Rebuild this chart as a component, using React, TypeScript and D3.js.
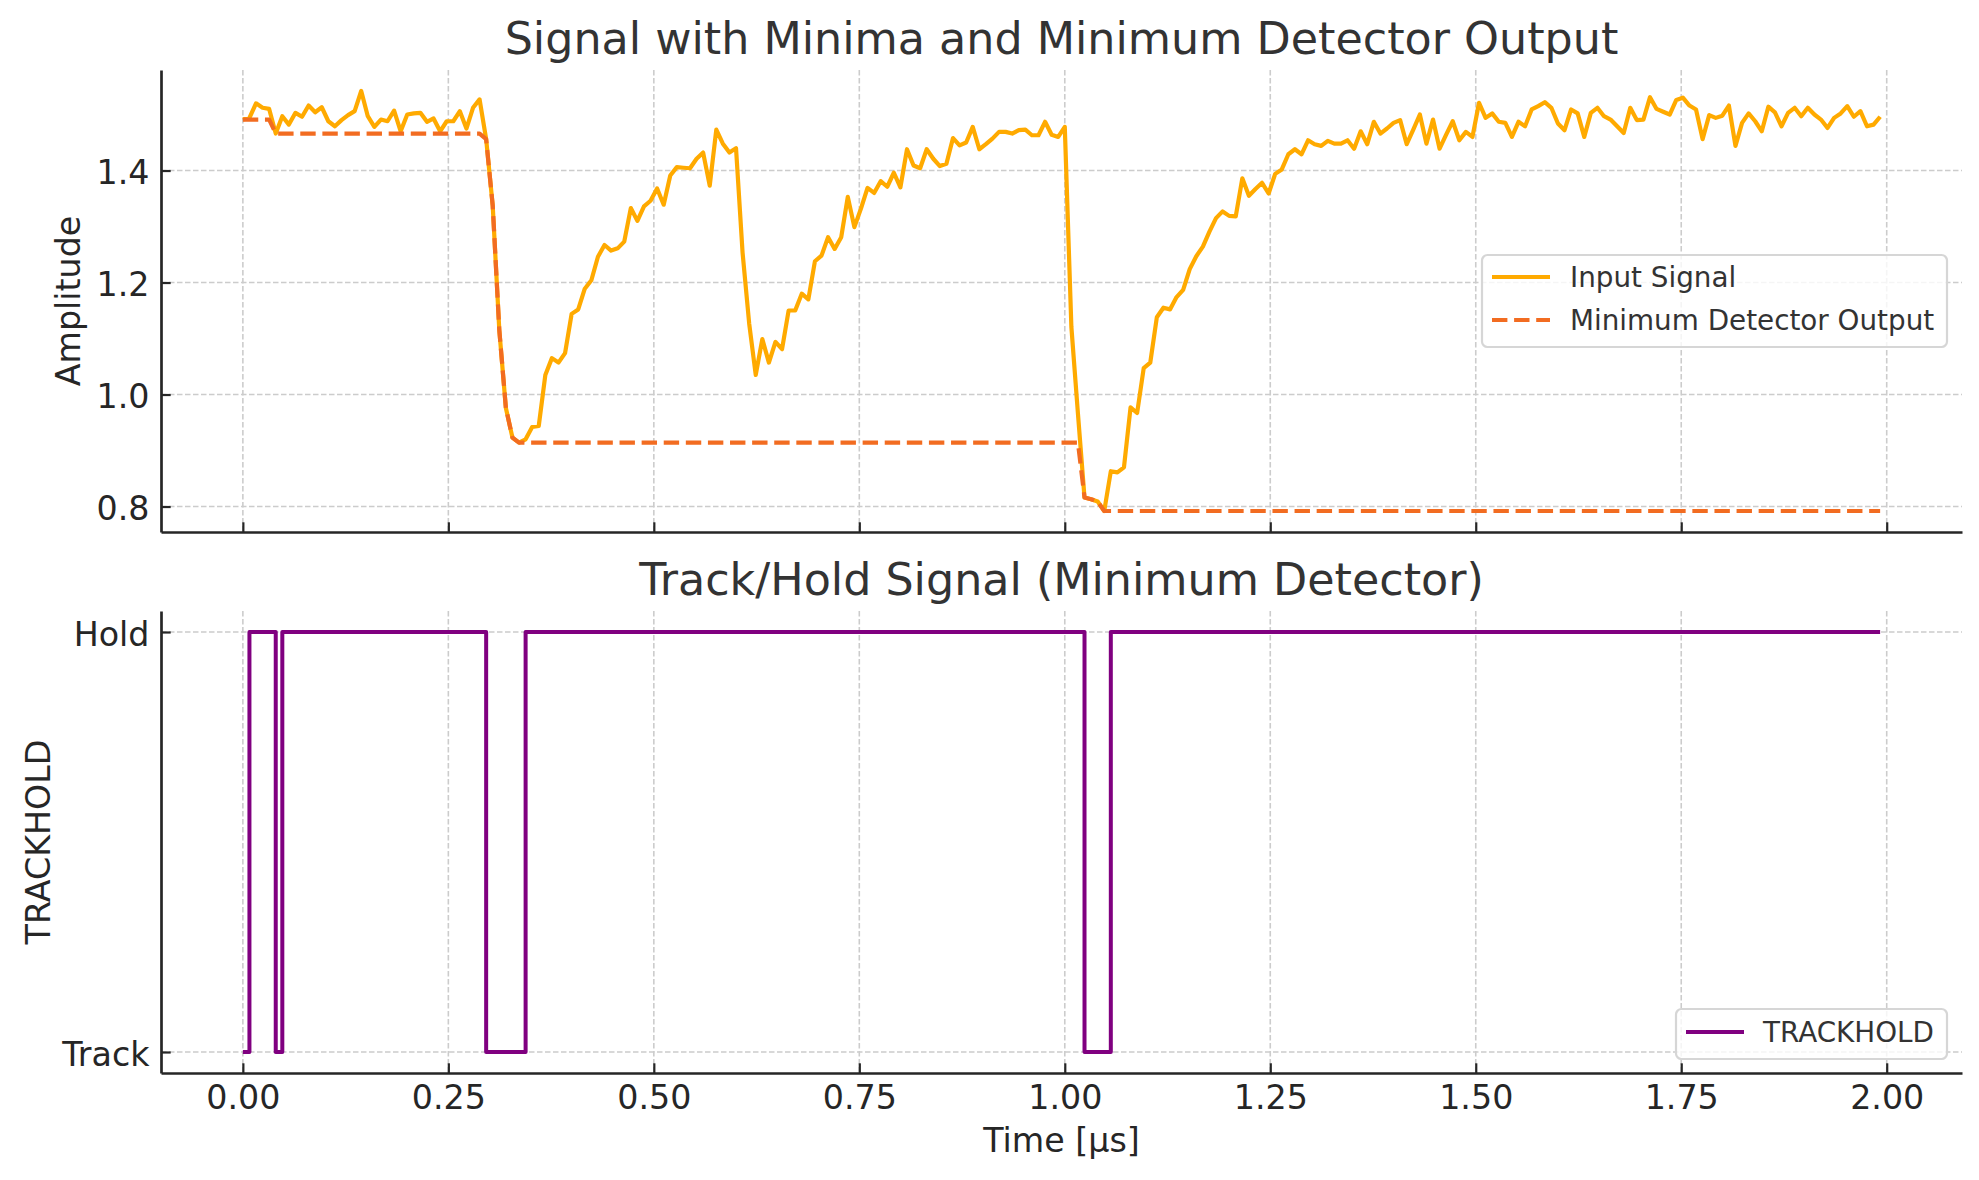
import React, { useEffect, useRef } from 'react';
import * as d3 from 'd3';

// sampling grid of the input signal (µs)
const timeStep = 0.008;

// input signal, one value per sample
const inputSignal = [
  1.491, 1.494, 1.520, 1.512, 1.510, 1.466, 1.497, 1.482, 1.503, 1.496,
  1.516, 1.504, 1.513, 1.488, 1.479, 1.490, 1.499, 1.506, 1.542, 1.497,
  1.478, 1.491, 1.488, 1.507, 1.470, 1.500, 1.502, 1.503, 1.487, 1.493,
  1.470, 1.488, 1.488, 1.506, 1.475, 1.512, 1.527, 1.456, 1.337, 1.115,
  0.976, 0.923, 0.914, 0.920, 0.942, 0.944, 1.035, 1.065, 1.057, 1.074,
  1.144, 1.152, 1.189, 1.204, 1.246, 1.267, 1.257, 1.261, 1.273, 1.333,
  1.310, 1.336, 1.346, 1.368, 1.339, 1.391, 1.406, 1.405, 1.404, 1.421,
  1.432, 1.373, 1.473, 1.448, 1.432, 1.440, 1.253, 1.127, 1.035, 1.099,
  1.057, 1.094, 1.081, 1.150, 1.150, 1.180, 1.170, 1.238, 1.248, 1.281,
  1.260, 1.281, 1.353, 1.299, 1.332, 1.369, 1.360, 1.381, 1.371, 1.396,
  1.370, 1.438, 1.409, 1.404, 1.438, 1.421, 1.408, 1.412, 1.458, 1.445,
  1.450, 1.478, 1.438, 1.447, 1.457, 1.469, 1.469, 1.466, 1.472, 1.473,
  1.463, 1.463, 1.487, 1.464, 1.460, 1.478, 1.121, 0.966, 0.816, 0.813,
  0.809, 0.792, 0.863, 0.861, 0.870, 0.977, 0.967, 1.047, 1.057, 1.138,
  1.155, 1.152, 1.174, 1.187, 1.224, 1.247, 1.264, 1.291, 1.315, 1.327,
  1.319, 1.318, 1.386, 1.355, 1.367, 1.378, 1.359, 1.394, 1.402, 1.429,
  1.438, 1.429, 1.454, 1.447, 1.444, 1.453, 1.448, 1.448, 1.454, 1.439,
  1.470, 1.447, 1.487, 1.466, 1.475, 1.485, 1.490, 1.447, 1.473, 1.500,
  1.448, 1.491, 1.439, 1.464, 1.488, 1.454, 1.469, 1.460, 1.521, 1.494,
  1.502, 1.487, 1.485, 1.460, 1.487, 1.479, 1.509, 1.515, 1.522, 1.512,
  1.484, 1.472, 1.509, 1.502, 1.460, 1.503, 1.512, 1.497, 1.491, 1.479,
  1.467, 1.512, 1.490, 1.491, 1.531, 1.510, 1.505, 1.500, 1.526, 1.530,
  1.516, 1.509, 1.456, 1.499, 1.494, 1.498, 1.516, 1.444, 1.485, 1.502,
  1.488, 1.470, 1.514, 1.504, 1.479, 1.503, 1.512, 1.497, 1.512, 1.500,
  1.491, 1.476, 1.494, 1.502, 1.515, 1.496, 1.506, 1.479, 1.482, 1.496,
];

// minimum detector output, vertices (time µs, value)
const minDetTimes = [0, 0.032, 0.04, 0.288, 0.296, 0.304, 0.312, 0.32, 0.328, 0.336, 1.016, 1.024, 1.032, 1.04, 1.048, 1.992];
const minDetValues = [1.491, 1.491, 1.466, 1.466, 1.456, 1.337, 1.115, 0.976, 0.923, 0.914, 0.914, 0.816, 0.813, 0.809, 0.792, 0.792];

// track/hold state changes (0 = Track, 1 = Hold), held until next time
const trackHoldTimes = [0, 0.008, 0.04, 0.048, 0.296, 0.344, 1.024, 1.056, 1.992];
const trackHoldStates = [0, 1, 0, 1, 0, 1, 0, 1, 1];

const xTicks = [0, 0.25, 0.5, 0.75, 1.0, 1.25, 1.5, 1.75, 2.0];
const ampTicks = [0.8, 1.0, 1.2, 1.4];
const stateTicks = [0, 1];
const stateLabels = ['Track', 'Hold'];

const W = 1979;
const H = 1180;
const FONT = '"DejaVu Sans", sans-serif';
const INK = '#262626';
const GRID = '#cccccc';

const App: React.FC = () => {
  const svgRef = useRef<SVGSVGElement>(null);

  useEffect(() => {
    const svg = d3.select(svgRef.current);
    svg.selectAll('*').remove();

    const left = 161;
    const right = 1962;
    const top1 = { top: 70, bottom: 532 };
    const top2 = { top: 611, bottom: 1073 };

    const sig = inputSignal.map((v, i) => ({ t: i * timeStep, v }));
    const tExt = d3.extent(sig, d => d.t) as [number, number];
    const tPad = (tExt[1] - tExt[0]) * 0.05;
    const x = d3.scaleLinear().domain([tExt[0] - tPad, tExt[1] + tPad]).range([left, right]);

    const vExt = d3.extent(inputSignal) as [number, number];
    const vPad = (vExt[1] - vExt[0]) * 0.05;
    const y1 = d3.scaleLinear().domain([vExt[0] - vPad, vExt[1] + vPad]).range([top1.bottom, top1.top]);
    const y2 = d3.scaleLinear().domain([-0.05, 1.05]).range([top2.bottom, top2.top]);

    const grid = (g: any, y: any, yTicks: number[], box: { top: number; bottom: number }) => {
      const gg = g.append('g');
      gg.selectAll('.vg').data(xTicks).enter().append('line')
        .attr('x1', (d: number) => x(d)).attr('x2', (d: number) => x(d))
        .attr('y1', box.top).attr('y2', box.bottom)
        .attr('stroke', GRID).attr('stroke-width', 1.6).attr('stroke-dasharray', '5.5,2.5');
      gg.selectAll('.hg').data(yTicks).enter().append('line')
        .attr('x1', left).attr('x2', right)
        .attr('y1', (d: number) => y(d)).attr('y2', (d: number) => y(d))
        .attr('stroke', GRID).attr('stroke-width', 1.6).attr('stroke-dasharray', '5.5,2.5');
    };

    const styleAxis = (ax: any) => {
      ax.select('.domain').attr('stroke', INK).attr('stroke-width', 2.7);
      ax.selectAll('.tick line').attr('stroke', INK).attr('stroke-width', 2.2);
      ax.selectAll('.tick text').attr('fill', INK).attr('font-family', FONT).attr('font-size', 33.3);
    };

    // ---------- top panel ----------
    grid(svg, y1, ampTicks, top1);

    const lineSig = d3.line<{ t: number; v: number }>().x(d => x(d.t)).y(d => y1(d.v));
    svg.append('path').datum(sig).attr('d', lineSig)
      .attr('fill', 'none').attr('stroke', '#FFAA00').attr('stroke-width', 4.2)
      .attr('stroke-linejoin', 'round');

    const minDet = minDetTimes.map((t, i) => ({ t, v: minDetValues[i] }));
    svg.append('path').datum(minDet).attr('d', lineSig)
      .attr('fill', 'none').attr('stroke', '#F26C21').attr('stroke-width', 4.2)
      .attr('stroke-dasharray', '15.4,6.7').attr('stroke-linejoin', 'round');

    const xAx1 = svg.append('g').attr('transform', `translate(0,${top1.bottom})`)
      .call(d3.axisBottom(x).tickValues(xTicks).tickSizeInner(-9.7).tickSizeOuter(0).tickFormat(() => ''));
    styleAxis(xAx1);
    const yAx1 = svg.append('g').attr('transform', `translate(${left},0)`)
      .call(d3.axisLeft(y1).tickValues(ampTicks).tickSizeInner(-9.7).tickSizeOuter(0).tickPadding(11.5)
        .tickFormat(d3.format('.1f')));
    styleAxis(yAx1);
    yAx1.selectAll('.tick text').attr('dy', '0.4em');

    svg.append('text').attr('x', (left + right) / 2).attr('y', 53.5)
      .attr('text-anchor', 'middle').attr('font-family', FONT).attr('font-size', 44.4).attr('fill', '#333333')
      .text('Signal with Minima and Minimum Detector Output');
    svg.append('text').attr('transform', `translate(80,${(top1.top + top1.bottom) / 2}) rotate(-90)`)
      .attr('text-anchor', 'middle').attr('font-family', FONT).attr('font-size', 33.3).attr('fill', INK)
      .text('Amplitude');

    // legend top
    const lg1 = svg.append('g');
    lg1.append('rect').attr('x', 1482).attr('y', 255).attr('width', 465).attr('height', 92)
      .attr('rx', 5.5).attr('fill', 'white').attr('fill-opacity', 0.8)
      .attr('stroke', '#d6d6d6').attr('stroke-width', 2.2);
    const legItems = [
      { label: 'Input Signal', color: '#FFAA00', dash: null },
      { label: 'Minimum Detector Output', color: '#F26C21', dash: '15.4,6.7' },
    ];
    legItems.forEach((it, i) => {
      const cy = 277 + i * 43;
      lg1.append('line').attr('x1', 1492).attr('x2', 1550).attr('y1', cy).attr('y2', cy)
        .attr('stroke', it.color).attr('stroke-width', 4.2)
        .attr('stroke-dasharray', it.dash);
      lg1.append('text').attr('x', 1570).attr('y', cy).attr('dy', '0.36em')
        .attr('font-family', FONT).attr('font-size', 27.8).attr('fill', '#333333').text(it.label);
    });

    // ---------- bottom panel ----------
    grid(svg, y2, stateTicks, top2);

    const th = trackHoldTimes.map((t, i) => ({ t, v: trackHoldStates[i] }));
    const lineTh = d3.line<{ t: number; v: number }>().x(d => x(d.t)).y(d => y2(d.v)).curve(d3.curveStepAfter);
    svg.append('path').datum(th).attr('d', lineTh)
      .attr('fill', 'none').attr('stroke', '#800080').attr('stroke-width', 4)
      .attr('stroke-linejoin', 'round');

    const xAx2 = svg.append('g').attr('transform', `translate(0,${top2.bottom})`)
      .call(d3.axisBottom(x).tickValues(xTicks).tickSizeInner(-9.7).tickSizeOuter(0).tickPadding(12.5)
        .tickFormat(d3.format('.2f')));
    styleAxis(xAx2);
    const yAx2 = svg.append('g').attr('transform', `translate(${left},0)`)
      .call(d3.axisLeft(y2).tickValues(stateTicks).tickSizeInner(-9.7).tickSizeOuter(0).tickPadding(11.5)
        .tickFormat((d: any) => stateLabels[d]));
    styleAxis(yAx2);
    yAx2.selectAll('.tick text').attr('dy', '0.4em');

    svg.append('text').attr('x', (left + right) / 2).attr('y', 594.5)
      .attr('text-anchor', 'middle').attr('font-family', FONT).attr('font-size', 44.4).attr('fill', '#333333')
      .text('Track/Hold Signal (Minimum Detector)');
    svg.append('text').attr('transform', `translate(50,${(top2.top + top2.bottom) / 2}) rotate(-90)`)
      .attr('text-anchor', 'middle').attr('font-family', FONT).attr('font-size', 33.3).attr('fill', INK)
      .text('TRACKHOLD');
    svg.append('text').attr('x', (left + right) / 2).attr('y', 1152)
      .attr('text-anchor', 'middle').attr('font-family', FONT).attr('font-size', 33.3).attr('fill', INK)
      .text('Time [µs]');

    // legend bottom
    const lg2 = svg.append('g');
    lg2.append('rect').attr('x', 1676).attr('y', 1009).attr('width', 271).attr('height', 50)
      .attr('rx', 5.5).attr('fill', 'white').attr('fill-opacity', 0.8)
      .attr('stroke', '#d6d6d6').attr('stroke-width', 2.2);
    lg2.append('line').attr('x1', 1686).attr('x2', 1744).attr('y1', 1032).attr('y2', 1032)
      .attr('stroke', '#800080').attr('stroke-width', 4);
    lg2.append('text').attr('x', 1763).attr('y', 1032).attr('dy', '0.36em')
      .attr('font-family', FONT).attr('font-size', 27.8).attr('fill', '#333333').text('TRACKHOLD');
  }, []);

  return (
    <svg ref={svgRef} width={W} height={H}
      style={{ position: 'absolute', left: 0, top: 0, display: 'block', background: 'white' }} />
  );
};

export default App;
